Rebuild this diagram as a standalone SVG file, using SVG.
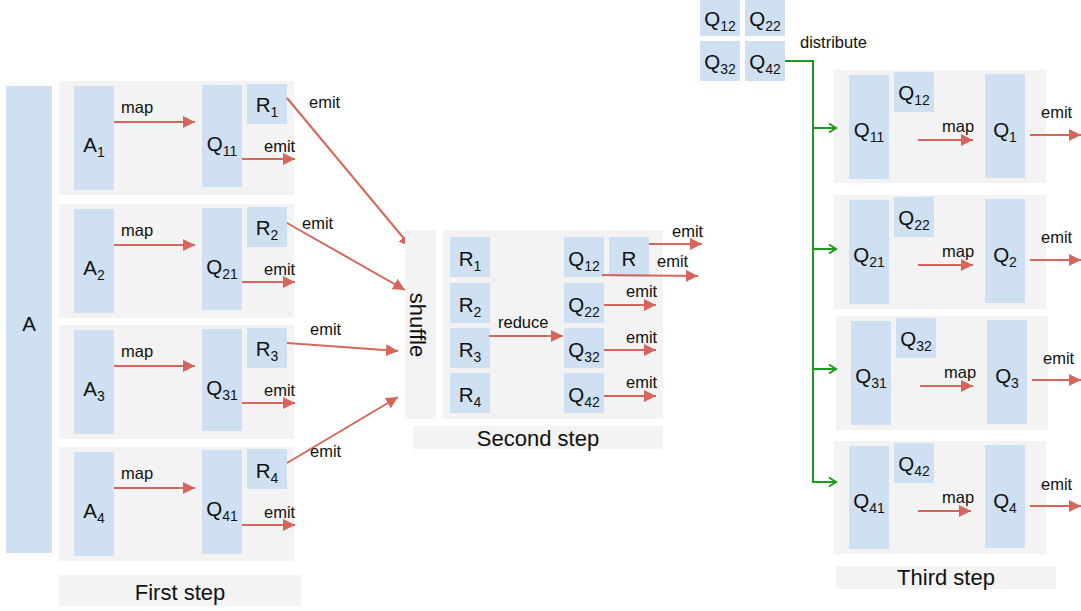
<svg xmlns="http://www.w3.org/2000/svg" width="1081" height="611" viewBox="0 0 1081 611">
<defs>
<style>
.pn{fill:#f3f3f3}
.bx{fill:#cfe0f2}
.lb{font-family:"Liberation Sans",Arial,sans-serif;font-size:20.5px;fill:#111;text-anchor:middle}
.sb{font-size:14px}
.sm{font-family:"Liberation Sans",Arial,sans-serif;font-size:16.5px;fill:#111}
.st{font-family:"Liberation Sans",Arial,sans-serif;font-size:22px;fill:#111;text-anchor:middle}
.ar{stroke:#d6665c;stroke-width:2;fill:none;marker-end:url(#ah)}
.gr{stroke:#1c9a1c;stroke-width:2;fill:none}
.ga{stroke:#1c9a1c;stroke-width:2;fill:none;marker-end:url(#gh)}
</style>
<marker id="ah" markerUnits="userSpaceOnUse" viewBox="0 0 12 12" refX="12" refY="6" markerWidth="12" markerHeight="12" orient="auto">
<path d="M0,0 L12,6 L0,12 z" fill="#d6665c"/>
</marker>
<marker id="gh" markerUnits="userSpaceOnUse" viewBox="0 0 12 12" refX="10" refY="6" markerWidth="12" markerHeight="12" orient="auto">
<path d="M3,1.5 L10,6 L3,10.5" fill="none" stroke="#1c9a1c" stroke-width="2"/>
</marker>
</defs>
<rect width="1081" height="611" fill="#fff"/>

<g id="A">
<rect class="bx" x="6" y="86" width="46" height="467"/>
<text class="lb" x="29" y="331">A</text>
</g>

<g id="step1-row1">
<rect class="pn" x="59" y="81" width="235" height="114"/>
<rect class="bx" x="74" y="86" width="40" height="104"/>
<text class="lb" x="94" y="152">A<tspan class="sb" dy="5">1</tspan></text>
<rect class="bx" x="202" y="85" width="40" height="102"/>
<text class="lb" x="222" y="151">Q<tspan class="sb" dy="5">11</tspan></text>
<rect class="bx" x="247" y="84" width="40" height="40"/>
<text class="lb" x="267" y="112">R<tspan class="sb" dy="5">1</tspan></text>
</g>
<g id="step1-row2">
<rect class="pn" x="59" y="204" width="235" height="114"/>
<rect class="bx" x="74" y="209" width="40" height="104"/>
<text class="lb" x="94" y="275">A<tspan class="sb" dy="5">2</tspan></text>
<rect class="bx" x="202" y="208" width="40" height="102"/>
<text class="lb" x="222" y="274">Q<tspan class="sb" dy="5">21</tspan></text>
<rect class="bx" x="247" y="207" width="40" height="40"/>
<text class="lb" x="267" y="235">R<tspan class="sb" dy="5">2</tspan></text>
</g>
<g id="step1-row3">
<rect class="pn" x="59" y="325" width="235" height="114"/>
<rect class="bx" x="74" y="330" width="40" height="104"/>
<text class="lb" x="94" y="396">A<tspan class="sb" dy="5">3</tspan></text>
<rect class="bx" x="202" y="329" width="40" height="102"/>
<text class="lb" x="222" y="395">Q<tspan class="sb" dy="5">31</tspan></text>
<rect class="bx" x="247" y="328" width="40" height="40"/>
<text class="lb" x="267" y="356">R<tspan class="sb" dy="5">3</tspan></text>
</g>
<g id="step1-row4">
<rect class="pn" x="59" y="447" width="235" height="114"/>
<rect class="bx" x="74" y="452" width="40" height="104"/>
<text class="lb" x="94" y="518">A<tspan class="sb" dy="5">4</tspan></text>
<rect class="bx" x="202" y="450" width="40" height="104"/>
<text class="lb" x="222" y="516">Q<tspan class="sb" dy="5">41</tspan></text>
<rect class="bx" x="247" y="449" width="40" height="40"/>
<text class="lb" x="267" y="478">R<tspan class="sb" dy="5">4</tspan></text>
</g>
<g id="step1-label">
<rect class="pn" x="59" y="575" width="242" height="31"/>
<text class="st" x="180" y="600">First step</text>
</g>

<g id="step2">
<rect class="pn" x="443" y="230" width="220" height="189"/>
<rect class="bx" x="450" y="237" width="40" height="40"/>
<text class="lb" x="470" y="266">R<tspan class="sb" dy="5">1</tspan></text>
<rect class="bx" x="450" y="283" width="40" height="40"/>
<text class="lb" x="470" y="312">R<tspan class="sb" dy="5">2</tspan></text>
<rect class="bx" x="450" y="328" width="40" height="40"/>
<text class="lb" x="470" y="357">R<tspan class="sb" dy="5">3</tspan></text>
<rect class="bx" x="450" y="373" width="40" height="40"/>
<text class="lb" x="470" y="402">R<tspan class="sb" dy="5">4</tspan></text>
<rect class="bx" x="564" y="237" width="40" height="40"/>
<text class="lb" x="584" y="266">Q<tspan class="sb" dy="5">12</tspan></text>
<rect class="bx" x="564" y="283" width="40" height="40"/>
<text class="lb" x="584" y="312">Q<tspan class="sb" dy="5">22</tspan></text>
<rect class="bx" x="564" y="328" width="40" height="40"/>
<text class="lb" x="584" y="357">Q<tspan class="sb" dy="5">32</tspan></text>
<rect class="bx" x="564" y="373" width="40" height="40"/>
<text class="lb" x="584" y="402">Q<tspan class="sb" dy="5">42</tspan></text>
<rect class="bx" x="609" y="237" width="40" height="40"/>
<text class="lb" x="629" y="266">R</text>
</g>
<g id="step2-label">
<rect class="pn" x="413" y="426" width="250" height="23"/>
<text class="st" x="538" y="446">Second step</text>
</g>

<g id="dist-source">
<rect class="bx" x="700" y="0" width="40" height="36"/>
<text class="lb" x="720" y="26">Q<tspan class="sb" dy="5">12</tspan></text>
<rect class="bx" x="745" y="0" width="40" height="36"/>
<text class="lb" x="765" y="26">Q<tspan class="sb" dy="5">22</tspan></text>
<rect class="bx" x="700" y="41" width="40" height="40"/>
<text class="lb" x="720" y="69">Q<tspan class="sb" dy="5">32</tspan></text>
<rect class="bx" x="745" y="41" width="40" height="40"/>
<text class="lb" x="765" y="69">Q<tspan class="sb" dy="5">42</tspan></text>
</g>
<g id="step3-row1">
<rect class="pn" x="834" y="70" width="212" height="113"/>
<rect class="bx" x="849" y="75" width="40" height="104"/>
<text class="lb" x="869" y="137">Q<tspan class="sb" dy="5">11</tspan></text>
<rect class="bx" x="894" y="72" width="40" height="40"/>
<text class="lb" x="914" y="100">Q<tspan class="sb" dy="5">12</tspan></text>
<rect class="bx" x="985" y="74" width="40" height="104"/>
<text class="lb" x="1005" y="137">Q<tspan class="sb" dy="5">1</tspan></text>
</g>
<g id="step3-row2">
<rect class="pn" x="834" y="195" width="212" height="114"/>
<rect class="bx" x="849" y="200" width="40" height="104"/>
<text class="lb" x="869" y="262">Q<tspan class="sb" dy="5">21</tspan></text>
<rect class="bx" x="894" y="197" width="40" height="40"/>
<text class="lb" x="914" y="225">Q<tspan class="sb" dy="5">22</tspan></text>
<rect class="bx" x="985" y="199" width="40" height="104"/>
<text class="lb" x="1005" y="262">Q<tspan class="sb" dy="5">2</tspan></text>
</g>
<g id="step3-row3">
<rect class="pn" x="836" y="316" width="212" height="114"/>
<rect class="bx" x="851" y="321" width="40" height="104"/>
<text class="lb" x="871" y="383">Q<tspan class="sb" dy="5">31</tspan></text>
<rect class="bx" x="896" y="318" width="40" height="40"/>
<text class="lb" x="916" y="346">Q<tspan class="sb" dy="5">32</tspan></text>
<rect class="bx" x="987" y="320" width="40" height="104"/>
<text class="lb" x="1007" y="383">Q<tspan class="sb" dy="5">3</tspan></text>
</g>
<g id="step3-row4">
<rect class="pn" x="834" y="441" width="212" height="113"/>
<rect class="bx" x="849" y="446" width="40" height="103"/>
<text class="lb" x="869" y="508">Q<tspan class="sb" dy="5">41</tspan></text>
<rect class="bx" x="894" y="443" width="40" height="40"/>
<text class="lb" x="914" y="471">Q<tspan class="sb" dy="5">42</tspan></text>
<rect class="bx" x="985" y="445" width="40" height="103"/>
<text class="lb" x="1005" y="508">Q<tspan class="sb" dy="5">4</tspan></text>
</g>
<g id="step3-label">
<rect class="pn" x="836" y="566" width="220" height="23"/>
<text class="st" x="946" y="585">Third step</text>
</g>

<g id="connectors">
<line class="ar" x1="114" y1="122" x2="195" y2="122"/>
<text class="sm" x="121" y="113">map</text>
<line class="ar" x1="242" y1="159" x2="295" y2="159"/>
<text class="sm" x="264" y="152">emit</text>
<line class="ar" x1="114" y1="245" x2="195" y2="245"/>
<text class="sm" x="121" y="236">map</text>
<line class="ar" x1="242" y1="282" x2="295" y2="282"/>
<text class="sm" x="264" y="275">emit</text>
<line class="ar" x1="114" y1="366" x2="195" y2="366"/>
<text class="sm" x="121" y="357">map</text>
<line class="ar" x1="242" y1="403" x2="295" y2="403"/>
<text class="sm" x="264" y="396">emit</text>
<line class="ar" x1="114" y1="488" x2="195" y2="488"/>
<text class="sm" x="121" y="479">map</text>
<line class="ar" x1="242" y1="525" x2="295" y2="525"/>
<text class="sm" x="264" y="518">emit</text>
<line class="ar" x1="287" y1="98" x2="411" y2="247"/>
<text class="sm" x="309" y="108">emit</text>
<line class="ar" x1="287" y1="223" x2="405" y2="290"/>
<text class="sm" x="302" y="229">emit</text>
<line class="ar" x1="287" y1="343" x2="398" y2="351"/>
<text class="sm" x="310" y="335">emit</text>
<line class="ar" x1="287" y1="463" x2="398" y2="397"/>
<text class="sm" x="310" y="457">emit</text>
<line class="ar" x1="489" y1="336" x2="563" y2="336"/>
<text class="sm" x="498" y="328">reduce</text>
<line class="ar" x1="649" y1="244" x2="702" y2="244"/>
<text class="sm" x="672" y="237">emit</text>
<line class="ar" x1="602" y1="275" x2="698" y2="276"/>
<text class="sm" x="657" y="267">emit</text>
<line class="ar" x1="604" y1="305" x2="656" y2="305"/>
<text class="sm" x="626" y="297">emit</text>
<line class="ar" x1="604" y1="350" x2="656" y2="350"/>
<text class="sm" x="626" y="343">emit</text>
<line class="ar" x1="604" y1="396" x2="656" y2="396"/>
<text class="sm" x="626" y="388">emit</text>
<text class="sm" x="800" y="48">distribute</text>
<polyline class="gr" points="785,61 813,61 813,482"/>
<line class="ga" x1="813" y1="128" x2="836" y2="128"/>
<line class="ga" x1="813" y1="249" x2="836" y2="249"/>
<line class="ga" x1="813" y1="369" x2="836" y2="369"/>
<line class="ga" x1="812" y1="482" x2="836" y2="482"/>
<line class="ar" x1="918" y1="140" x2="973" y2="140"/>
<text class="sm" x="942" y="132">map</text>
<line class="ar" x1="1030" y1="135" x2="1081" y2="135"/>
<text class="sm" x="1041" y="118">emit</text>
<line class="ar" x1="918" y1="265" x2="973" y2="265"/>
<text class="sm" x="942" y="257">map</text>
<line class="ar" x1="1030" y1="260" x2="1081" y2="260"/>
<text class="sm" x="1041" y="243">emit</text>
<line class="ar" x1="920" y1="386" x2="973" y2="386"/>
<text class="sm" x="944" y="378">map</text>
<line class="ar" x1="1032" y1="380" x2="1081" y2="380"/>
<text class="sm" x="1043" y="364">emit</text>
<line class="ar" x1="918" y1="511" x2="971" y2="511"/>
<text class="sm" x="942" y="503">map</text>
<line class="ar" x1="1030" y1="506" x2="1081" y2="506"/>
<text class="sm" x="1041" y="490">emit</text>
</g>

<g id="shuffle">
<rect class="pn" x="405" y="230" width="31" height="189"/>
<text class="st" x="417" y="332" transform="rotate(90 417 325)">shuffle</text>
</g>
</svg>
